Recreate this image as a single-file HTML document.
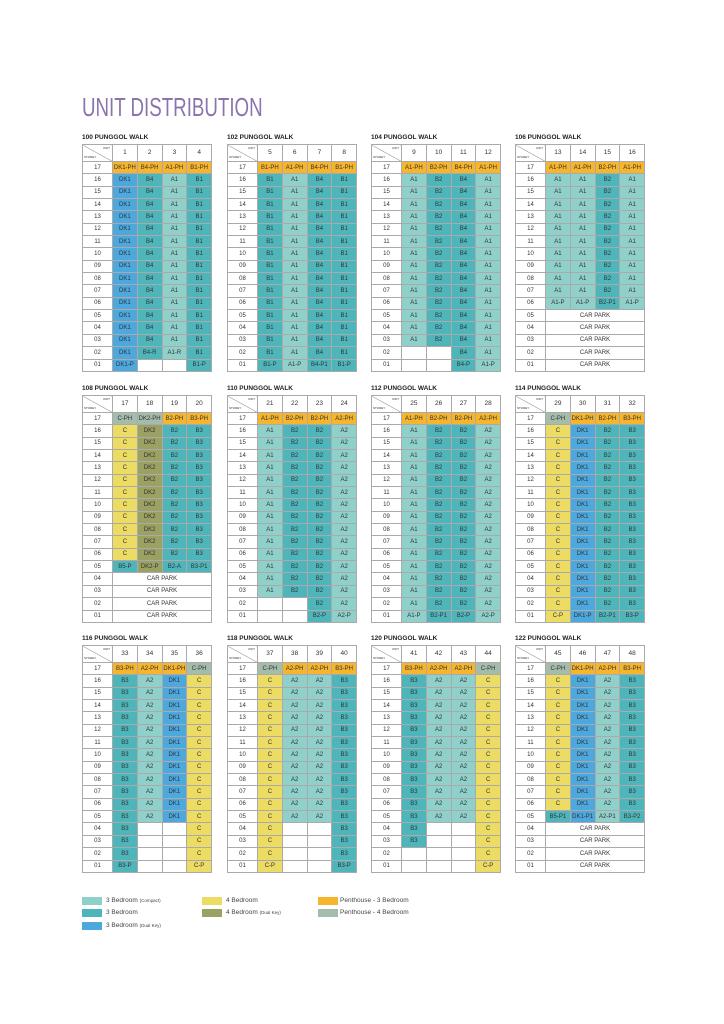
<!DOCTYPE html>
<html><head><meta charset="utf-8"><style>
*{margin:0;padding:0;box-sizing:border-box}
body{width:724px;height:1024px;background:#fff;position:relative;overflow:hidden;font-family:"Liberation Sans",sans-serif;color:#333}
h1{position:absolute;left:82px;top:92px;font-weight:normal;font-size:26px;color:#8b74ae;transform:scaleX(.72);transform-origin:0 0;white-space:nowrap;letter-spacing:0}
.w{position:absolute;width:130px}
.t{font-size:6.5px;font-weight:bold;color:#222;height:10px;margin-top:-10px;white-space:nowrap}
table{border-collapse:collapse;width:130px;table-layout:fixed;border:1px solid #777}
td,th{border:1px solid #aaa;font-size:6px;text-align:center;font-weight:normal;height:12.35px;padding:0;line-height:6px;overflow:hidden;white-space:nowrap}
tr.h td,tr.h th{height:17px;font-size:6.5px}
th.x{background:linear-gradient(to top right,#fff calc(50% - .5px),#888 50%,#fff calc(50% + .5px));position:relative}
th.x span{position:absolute;font-size:3px;line-height:3px}
.a{background:#8fd0cb}.b{background:#4eb6bb}.d{background:#4da8de}.c{background:#ecdc63}.k{background:#9ba063}.p{background:#f6b52c}.g{background:#a4bcab}
.lg{position:absolute;width:20px;height:8px}
.lt{position:absolute;font-size:6.5px;color:#444;white-space:nowrap}
.lt small{font-size:4.5px}
</style></head><body>
<h1>UNIT DISTRIBUTION</h1>

<div class="w" style="left:82px;top:144px"><div class="t">100 PUNGGOL WALK</div><table><col style="width:30px"><col><col><col><col>
<tr class="h"><th class="x"><span style="right:2px;top:2px">UNIT</span><span style="left:1px;bottom:2px">STOREY</span></th><td>1</td><td>2</td><td>3</td><td>4</td></tr>
<tr><th>17</th><td class="p">DK1-PH</td><td class="p">B4-PH</td><td class="p">A1-PH</td><td class="p">B1-PH</td></tr>
<tr><th>16</th><td class="d">DK1</td><td class="b">B4</td><td class="a">A1</td><td class="b">B1</td></tr>
<tr><th>15</th><td class="d">DK1</td><td class="b">B4</td><td class="a">A1</td><td class="b">B1</td></tr>
<tr><th>14</th><td class="d">DK1</td><td class="b">B4</td><td class="a">A1</td><td class="b">B1</td></tr>
<tr><th>13</th><td class="d">DK1</td><td class="b">B4</td><td class="a">A1</td><td class="b">B1</td></tr>
<tr><th>12</th><td class="d">DK1</td><td class="b">B4</td><td class="a">A1</td><td class="b">B1</td></tr>
<tr><th>11</th><td class="d">DK1</td><td class="b">B4</td><td class="a">A1</td><td class="b">B1</td></tr>
<tr><th>10</th><td class="d">DK1</td><td class="b">B4</td><td class="a">A1</td><td class="b">B1</td></tr>
<tr><th>09</th><td class="d">DK1</td><td class="b">B4</td><td class="a">A1</td><td class="b">B1</td></tr>
<tr><th>08</th><td class="d">DK1</td><td class="b">B4</td><td class="a">A1</td><td class="b">B1</td></tr>
<tr><th>07</th><td class="d">DK1</td><td class="b">B4</td><td class="a">A1</td><td class="b">B1</td></tr>
<tr><th>06</th><td class="d">DK1</td><td class="b">B4</td><td class="a">A1</td><td class="b">B1</td></tr>
<tr><th>05</th><td class="d">DK1</td><td class="b">B4</td><td class="a">A1</td><td class="b">B1</td></tr>
<tr><th>04</th><td class="d">DK1</td><td class="b">B4</td><td class="a">A1</td><td class="b">B1</td></tr>
<tr><th>03</th><td class="d">DK1</td><td class="b">B4</td><td class="a">A1</td><td class="b">B1</td></tr>
<tr><th>02</th><td class="d">DK1</td><td class="b">B4-R</td><td class="a">A1-R</td><td class="b">B1</td></tr>
<tr><th>01</th><td class="d">DK1-P</td><td></td><td></td><td class="b">B1-P</td></tr>
</table></div>

<div class="w" style="left:227px;top:144px"><div class="t">102 PUNGGOL WALK</div><table><col style="width:30px"><col><col><col><col>
<tr class="h"><th class="x"><span style="right:2px;top:2px">UNIT</span><span style="left:1px;bottom:2px">STOREY</span></th><td>5</td><td>6</td><td>7</td><td>8</td></tr>
<tr><th>17</th><td class="p">B1-PH</td><td class="p">A1-PH</td><td class="p">B4-PH</td><td class="p">B1-PH</td></tr>
<tr><th>16</th><td class="b">B1</td><td class="a">A1</td><td class="b">B4</td><td class="b">B1</td></tr>
<tr><th>15</th><td class="b">B1</td><td class="a">A1</td><td class="b">B4</td><td class="b">B1</td></tr>
<tr><th>14</th><td class="b">B1</td><td class="a">A1</td><td class="b">B4</td><td class="b">B1</td></tr>
<tr><th>13</th><td class="b">B1</td><td class="a">A1</td><td class="b">B4</td><td class="b">B1</td></tr>
<tr><th>12</th><td class="b">B1</td><td class="a">A1</td><td class="b">B4</td><td class="b">B1</td></tr>
<tr><th>11</th><td class="b">B1</td><td class="a">A1</td><td class="b">B4</td><td class="b">B1</td></tr>
<tr><th>10</th><td class="b">B1</td><td class="a">A1</td><td class="b">B4</td><td class="b">B1</td></tr>
<tr><th>09</th><td class="b">B1</td><td class="a">A1</td><td class="b">B4</td><td class="b">B1</td></tr>
<tr><th>08</th><td class="b">B1</td><td class="a">A1</td><td class="b">B4</td><td class="b">B1</td></tr>
<tr><th>07</th><td class="b">B1</td><td class="a">A1</td><td class="b">B4</td><td class="b">B1</td></tr>
<tr><th>06</th><td class="b">B1</td><td class="a">A1</td><td class="b">B4</td><td class="b">B1</td></tr>
<tr><th>05</th><td class="b">B1</td><td class="a">A1</td><td class="b">B4</td><td class="b">B1</td></tr>
<tr><th>04</th><td class="b">B1</td><td class="a">A1</td><td class="b">B4</td><td class="b">B1</td></tr>
<tr><th>03</th><td class="b">B1</td><td class="a">A1</td><td class="b">B4</td><td class="b">B1</td></tr>
<tr><th>02</th><td class="b">B1</td><td class="a">A1</td><td class="b">B4</td><td class="b">B1</td></tr>
<tr><th>01</th><td class="b">B1-P</td><td class="a">A1-P</td><td class="b">B4-P1</td><td class="b">B1-P</td></tr>
</table></div>

<div class="w" style="left:371px;top:144px"><div class="t">104 PUNGGOL WALK</div><table><col style="width:30px"><col><col><col><col>
<tr class="h"><th class="x"><span style="right:2px;top:2px">UNIT</span><span style="left:1px;bottom:2px">STOREY</span></th><td>9</td><td>10</td><td>11</td><td>12</td></tr>
<tr><th>17</th><td class="p">A1-PH</td><td class="p">B2-PH</td><td class="p">B4-PH</td><td class="p">A1-PH</td></tr>
<tr><th>16</th><td class="a">A1</td><td class="b">B2</td><td class="b">B4</td><td class="a">A1</td></tr>
<tr><th>15</th><td class="a">A1</td><td class="b">B2</td><td class="b">B4</td><td class="a">A1</td></tr>
<tr><th>14</th><td class="a">A1</td><td class="b">B2</td><td class="b">B4</td><td class="a">A1</td></tr>
<tr><th>13</th><td class="a">A1</td><td class="b">B2</td><td class="b">B4</td><td class="a">A1</td></tr>
<tr><th>12</th><td class="a">A1</td><td class="b">B2</td><td class="b">B4</td><td class="a">A1</td></tr>
<tr><th>11</th><td class="a">A1</td><td class="b">B2</td><td class="b">B4</td><td class="a">A1</td></tr>
<tr><th>10</th><td class="a">A1</td><td class="b">B2</td><td class="b">B4</td><td class="a">A1</td></tr>
<tr><th>09</th><td class="a">A1</td><td class="b">B2</td><td class="b">B4</td><td class="a">A1</td></tr>
<tr><th>08</th><td class="a">A1</td><td class="b">B2</td><td class="b">B4</td><td class="a">A1</td></tr>
<tr><th>07</th><td class="a">A1</td><td class="b">B2</td><td class="b">B4</td><td class="a">A1</td></tr>
<tr><th>06</th><td class="a">A1</td><td class="b">B2</td><td class="b">B4</td><td class="a">A1</td></tr>
<tr><th>05</th><td class="a">A1</td><td class="b">B2</td><td class="b">B4</td><td class="a">A1</td></tr>
<tr><th>04</th><td class="a">A1</td><td class="b">B2</td><td class="b">B4</td><td class="a">A1</td></tr>
<tr><th>03</th><td class="a">A1</td><td class="b">B2</td><td class="b">B4</td><td class="a">A1</td></tr>
<tr><th>02</th><td></td><td></td><td class="b">B4</td><td class="a">A1</td></tr>
<tr><th>01</th><td></td><td></td><td class="b">B4-P</td><td class="a">A1-P</td></tr>
</table></div>

<div class="w" style="left:515px;top:144px"><div class="t">106 PUNGGOL WALK</div><table><col style="width:30px"><col><col><col><col>
<tr class="h"><th class="x"><span style="right:2px;top:2px">UNIT</span><span style="left:1px;bottom:2px">STOREY</span></th><td>13</td><td>14</td><td>15</td><td>16</td></tr>
<tr><th>17</th><td class="p">A1-PH</td><td class="p">A1-PH</td><td class="p">B2-PH</td><td class="p">A1-PH</td></tr>
<tr><th>16</th><td class="a">A1</td><td class="a">A1</td><td class="b">B2</td><td class="a">A1</td></tr>
<tr><th>15</th><td class="a">A1</td><td class="a">A1</td><td class="b">B2</td><td class="a">A1</td></tr>
<tr><th>14</th><td class="a">A1</td><td class="a">A1</td><td class="b">B2</td><td class="a">A1</td></tr>
<tr><th>13</th><td class="a">A1</td><td class="a">A1</td><td class="b">B2</td><td class="a">A1</td></tr>
<tr><th>12</th><td class="a">A1</td><td class="a">A1</td><td class="b">B2</td><td class="a">A1</td></tr>
<tr><th>11</th><td class="a">A1</td><td class="a">A1</td><td class="b">B2</td><td class="a">A1</td></tr>
<tr><th>10</th><td class="a">A1</td><td class="a">A1</td><td class="b">B2</td><td class="a">A1</td></tr>
<tr><th>09</th><td class="a">A1</td><td class="a">A1</td><td class="b">B2</td><td class="a">A1</td></tr>
<tr><th>08</th><td class="a">A1</td><td class="a">A1</td><td class="b">B2</td><td class="a">A1</td></tr>
<tr><th>07</th><td class="a">A1</td><td class="a">A1</td><td class="b">B2</td><td class="a">A1</td></tr>
<tr><th>06</th><td class="a">A1-P</td><td class="a">A1-P</td><td class="b">B2-P1</td><td class="a">A1-P</td></tr>
<tr><th>05</th><td colspan="4">CAR PARK</td></tr>
<tr><th>04</th><td colspan="4">CAR PARK</td></tr>
<tr><th>03</th><td colspan="4">CAR PARK</td></tr>
<tr><th>02</th><td colspan="4">CAR PARK</td></tr>
<tr><th>01</th><td colspan="4">CAR PARK</td></tr>
</table></div>

<div class="w" style="left:82px;top:395px"><div class="t">108 PUNGGOL WALK</div><table><col style="width:30px"><col><col><col><col>
<tr class="h"><th class="x"><span style="right:2px;top:2px">UNIT</span><span style="left:1px;bottom:2px">STOREY</span></th><td>17</td><td>18</td><td>19</td><td>20</td></tr>
<tr><th>17</th><td class="g">C-PH</td><td class="g">DK2-PH</td><td class="p">B2-PH</td><td class="p">B3-PH</td></tr>
<tr><th>16</th><td class="c">C</td><td class="k">DK2</td><td class="b">B2</td><td class="b">B3</td></tr>
<tr><th>15</th><td class="c">C</td><td class="k">DK2</td><td class="b">B2</td><td class="b">B3</td></tr>
<tr><th>14</th><td class="c">C</td><td class="k">DK2</td><td class="b">B2</td><td class="b">B3</td></tr>
<tr><th>13</th><td class="c">C</td><td class="k">DK2</td><td class="b">B2</td><td class="b">B3</td></tr>
<tr><th>12</th><td class="c">C</td><td class="k">DK2</td><td class="b">B2</td><td class="b">B3</td></tr>
<tr><th>11</th><td class="c">C</td><td class="k">DK2</td><td class="b">B2</td><td class="b">B3</td></tr>
<tr><th>10</th><td class="c">C</td><td class="k">DK2</td><td class="b">B2</td><td class="b">B3</td></tr>
<tr><th>09</th><td class="c">C</td><td class="k">DK2</td><td class="b">B2</td><td class="b">B3</td></tr>
<tr><th>08</th><td class="c">C</td><td class="k">DK2</td><td class="b">B2</td><td class="b">B3</td></tr>
<tr><th>07</th><td class="c">C</td><td class="k">DK2</td><td class="b">B2</td><td class="b">B3</td></tr>
<tr><th>06</th><td class="c">C</td><td class="k">DK2</td><td class="b">B2</td><td class="b">B3</td></tr>
<tr><th>05</th><td class="b">B5-P</td><td class="k">DK2-P</td><td class="b">B2-A</td><td class="b">B3-P1</td></tr>
<tr><th>04</th><td colspan="4">CAR PARK</td></tr>
<tr><th>03</th><td colspan="4">CAR PARK</td></tr>
<tr><th>02</th><td colspan="4">CAR PARK</td></tr>
<tr><th>01</th><td colspan="4">CAR PARK</td></tr>
</table></div>

<div class="w" style="left:227px;top:395px"><div class="t">110 PUNGGOL WALK</div><table><col style="width:30px"><col><col><col><col>
<tr class="h"><th class="x"><span style="right:2px;top:2px">UNIT</span><span style="left:1px;bottom:2px">STOREY</span></th><td>21</td><td>22</td><td>23</td><td>24</td></tr>
<tr><th>17</th><td class="p">A1-PH</td><td class="p">B2-PH</td><td class="p">B2-PH</td><td class="p">A2-PH</td></tr>
<tr><th>16</th><td class="a">A1</td><td class="b">B2</td><td class="b">B2</td><td class="a">A2</td></tr>
<tr><th>15</th><td class="a">A1</td><td class="b">B2</td><td class="b">B2</td><td class="a">A2</td></tr>
<tr><th>14</th><td class="a">A1</td><td class="b">B2</td><td class="b">B2</td><td class="a">A2</td></tr>
<tr><th>13</th><td class="a">A1</td><td class="b">B2</td><td class="b">B2</td><td class="a">A2</td></tr>
<tr><th>12</th><td class="a">A1</td><td class="b">B2</td><td class="b">B2</td><td class="a">A2</td></tr>
<tr><th>11</th><td class="a">A1</td><td class="b">B2</td><td class="b">B2</td><td class="a">A2</td></tr>
<tr><th>10</th><td class="a">A1</td><td class="b">B2</td><td class="b">B2</td><td class="a">A2</td></tr>
<tr><th>09</th><td class="a">A1</td><td class="b">B2</td><td class="b">B2</td><td class="a">A2</td></tr>
<tr><th>08</th><td class="a">A1</td><td class="b">B2</td><td class="b">B2</td><td class="a">A2</td></tr>
<tr><th>07</th><td class="a">A1</td><td class="b">B2</td><td class="b">B2</td><td class="a">A2</td></tr>
<tr><th>06</th><td class="a">A1</td><td class="b">B2</td><td class="b">B2</td><td class="a">A2</td></tr>
<tr><th>05</th><td class="a">A1</td><td class="b">B2</td><td class="b">B2</td><td class="a">A2</td></tr>
<tr><th>04</th><td class="a">A1</td><td class="b">B2</td><td class="b">B2</td><td class="a">A2</td></tr>
<tr><th>03</th><td class="a">A1</td><td class="b">B2</td><td class="b">B2</td><td class="a">A2</td></tr>
<tr><th>02</th><td></td><td></td><td class="b">B2</td><td class="a">A2</td></tr>
<tr><th>01</th><td></td><td></td><td class="b">B2-P</td><td class="a">A2-P</td></tr>
</table></div>

<div class="w" style="left:371px;top:395px"><div class="t">112 PUNGGOL WALK</div><table><col style="width:30px"><col><col><col><col>
<tr class="h"><th class="x"><span style="right:2px;top:2px">UNIT</span><span style="left:1px;bottom:2px">STOREY</span></th><td>25</td><td>26</td><td>27</td><td>28</td></tr>
<tr><th>17</th><td class="p">A1-PH</td><td class="p">B2-PH</td><td class="p">B2-PH</td><td class="p">A2-PH</td></tr>
<tr><th>16</th><td class="a">A1</td><td class="b">B2</td><td class="b">B2</td><td class="a">A2</td></tr>
<tr><th>15</th><td class="a">A1</td><td class="b">B2</td><td class="b">B2</td><td class="a">A2</td></tr>
<tr><th>14</th><td class="a">A1</td><td class="b">B2</td><td class="b">B2</td><td class="a">A2</td></tr>
<tr><th>13</th><td class="a">A1</td><td class="b">B2</td><td class="b">B2</td><td class="a">A2</td></tr>
<tr><th>12</th><td class="a">A1</td><td class="b">B2</td><td class="b">B2</td><td class="a">A2</td></tr>
<tr><th>11</th><td class="a">A1</td><td class="b">B2</td><td class="b">B2</td><td class="a">A2</td></tr>
<tr><th>10</th><td class="a">A1</td><td class="b">B2</td><td class="b">B2</td><td class="a">A2</td></tr>
<tr><th>09</th><td class="a">A1</td><td class="b">B2</td><td class="b">B2</td><td class="a">A2</td></tr>
<tr><th>08</th><td class="a">A1</td><td class="b">B2</td><td class="b">B2</td><td class="a">A2</td></tr>
<tr><th>07</th><td class="a">A1</td><td class="b">B2</td><td class="b">B2</td><td class="a">A2</td></tr>
<tr><th>06</th><td class="a">A1</td><td class="b">B2</td><td class="b">B2</td><td class="a">A2</td></tr>
<tr><th>05</th><td class="a">A1</td><td class="b">B2</td><td class="b">B2</td><td class="a">A2</td></tr>
<tr><th>04</th><td class="a">A1</td><td class="b">B2</td><td class="b">B2</td><td class="a">A2</td></tr>
<tr><th>03</th><td class="a">A1</td><td class="b">B2</td><td class="b">B2</td><td class="a">A2</td></tr>
<tr><th>02</th><td class="a">A1</td><td class="b">B2</td><td class="b">B2</td><td class="a">A2</td></tr>
<tr><th>01</th><td class="a">A1-P</td><td class="b">B2-P1</td><td class="b">B2-P</td><td class="a">A2-P</td></tr>
</table></div>

<div class="w" style="left:515px;top:395px"><div class="t">114 PUNGGOL WALK</div><table><col style="width:30px"><col><col><col><col>
<tr class="h"><th class="x"><span style="right:2px;top:2px">UNIT</span><span style="left:1px;bottom:2px">STOREY</span></th><td>29</td><td>30</td><td>31</td><td>32</td></tr>
<tr><th>17</th><td class="g">C-PH</td><td class="p">DK1-PH</td><td class="p">B2-PH</td><td class="p">B3-PH</td></tr>
<tr><th>16</th><td class="c">C</td><td class="d">DK1</td><td class="b">B2</td><td class="b">B3</td></tr>
<tr><th>15</th><td class="c">C</td><td class="d">DK1</td><td class="b">B2</td><td class="b">B3</td></tr>
<tr><th>14</th><td class="c">C</td><td class="d">DK1</td><td class="b">B2</td><td class="b">B3</td></tr>
<tr><th>13</th><td class="c">C</td><td class="d">DK1</td><td class="b">B2</td><td class="b">B3</td></tr>
<tr><th>12</th><td class="c">C</td><td class="d">DK1</td><td class="b">B2</td><td class="b">B3</td></tr>
<tr><th>11</th><td class="c">C</td><td class="d">DK1</td><td class="b">B2</td><td class="b">B3</td></tr>
<tr><th>10</th><td class="c">C</td><td class="d">DK1</td><td class="b">B2</td><td class="b">B3</td></tr>
<tr><th>09</th><td class="c">C</td><td class="d">DK1</td><td class="b">B2</td><td class="b">B3</td></tr>
<tr><th>08</th><td class="c">C</td><td class="d">DK1</td><td class="b">B2</td><td class="b">B3</td></tr>
<tr><th>07</th><td class="c">C</td><td class="d">DK1</td><td class="b">B2</td><td class="b">B3</td></tr>
<tr><th>06</th><td class="c">C</td><td class="d">DK1</td><td class="b">B2</td><td class="b">B3</td></tr>
<tr><th>05</th><td class="c">C</td><td class="d">DK1</td><td class="b">B2</td><td class="b">B3</td></tr>
<tr><th>04</th><td class="c">C</td><td class="d">DK1</td><td class="b">B2</td><td class="b">B3</td></tr>
<tr><th>03</th><td class="c">C</td><td class="d">DK1</td><td class="b">B2</td><td class="b">B3</td></tr>
<tr><th>02</th><td class="c">C</td><td class="d">DK1</td><td class="b">B2</td><td class="b">B3</td></tr>
<tr><th>01</th><td class="c">C-P</td><td class="d">DK1-P</td><td class="b">B2-P1</td><td class="b">B3-P</td></tr>
</table></div>

<div class="w" style="left:82px;top:645px"><div class="t">116 PUNGGOL WALK</div><table><col style="width:30px"><col><col><col><col>
<tr class="h"><th class="x"><span style="right:2px;top:2px">UNIT</span><span style="left:1px;bottom:2px">STOREY</span></th><td>33</td><td>34</td><td>35</td><td>36</td></tr>
<tr><th>17</th><td class="p">B3-PH</td><td class="p">A2-PH</td><td class="p">DK1-PH</td><td class="g">C-PH</td></tr>
<tr><th>16</th><td class="b">B3</td><td class="a">A2</td><td class="d">DK1</td><td class="c">C</td></tr>
<tr><th>15</th><td class="b">B3</td><td class="a">A2</td><td class="d">DK1</td><td class="c">C</td></tr>
<tr><th>14</th><td class="b">B3</td><td class="a">A2</td><td class="d">DK1</td><td class="c">C</td></tr>
<tr><th>13</th><td class="b">B3</td><td class="a">A2</td><td class="d">DK1</td><td class="c">C</td></tr>
<tr><th>12</th><td class="b">B3</td><td class="a">A2</td><td class="d">DK1</td><td class="c">C</td></tr>
<tr><th>11</th><td class="b">B3</td><td class="a">A2</td><td class="d">DK1</td><td class="c">C</td></tr>
<tr><th>10</th><td class="b">B3</td><td class="a">A2</td><td class="d">DK1</td><td class="c">C</td></tr>
<tr><th>09</th><td class="b">B3</td><td class="a">A2</td><td class="d">DK1</td><td class="c">C</td></tr>
<tr><th>08</th><td class="b">B3</td><td class="a">A2</td><td class="d">DK1</td><td class="c">C</td></tr>
<tr><th>07</th><td class="b">B3</td><td class="a">A2</td><td class="d">DK1</td><td class="c">C</td></tr>
<tr><th>06</th><td class="b">B3</td><td class="a">A2</td><td class="d">DK1</td><td class="c">C</td></tr>
<tr><th>05</th><td class="b">B3</td><td class="a">A2</td><td class="d">DK1</td><td class="c">C</td></tr>
<tr><th>04</th><td class="b">B3</td><td></td><td></td><td class="c">C</td></tr>
<tr><th>03</th><td class="b">B3</td><td></td><td></td><td class="c">C</td></tr>
<tr><th>02</th><td class="b">B3</td><td></td><td></td><td class="c">C</td></tr>
<tr><th>01</th><td class="b">B3-P</td><td></td><td></td><td class="c">C-P</td></tr>
</table></div>

<div class="w" style="left:227px;top:645px"><div class="t">118 PUNGGOL WALK</div><table><col style="width:30px"><col><col><col><col>
<tr class="h"><th class="x"><span style="right:2px;top:2px">UNIT</span><span style="left:1px;bottom:2px">STOREY</span></th><td>37</td><td>38</td><td>39</td><td>40</td></tr>
<tr><th>17</th><td class="g">C-PH</td><td class="p">A2-PH</td><td class="p">A2-PH</td><td class="p">B3-PH</td></tr>
<tr><th>16</th><td class="c">C</td><td class="a">A2</td><td class="a">A2</td><td class="b">B3</td></tr>
<tr><th>15</th><td class="c">C</td><td class="a">A2</td><td class="a">A2</td><td class="b">B3</td></tr>
<tr><th>14</th><td class="c">C</td><td class="a">A2</td><td class="a">A2</td><td class="b">B3</td></tr>
<tr><th>13</th><td class="c">C</td><td class="a">A2</td><td class="a">A2</td><td class="b">B3</td></tr>
<tr><th>12</th><td class="c">C</td><td class="a">A2</td><td class="a">A2</td><td class="b">B3</td></tr>
<tr><th>11</th><td class="c">C</td><td class="a">A2</td><td class="a">A2</td><td class="b">B3</td></tr>
<tr><th>10</th><td class="c">C</td><td class="a">A2</td><td class="a">A2</td><td class="b">B3</td></tr>
<tr><th>09</th><td class="c">C</td><td class="a">A2</td><td class="a">A2</td><td class="b">B3</td></tr>
<tr><th>08</th><td class="c">C</td><td class="a">A2</td><td class="a">A2</td><td class="b">B3</td></tr>
<tr><th>07</th><td class="c">C</td><td class="a">A2</td><td class="a">A2</td><td class="b">B3</td></tr>
<tr><th>06</th><td class="c">C</td><td class="a">A2</td><td class="a">A2</td><td class="b">B3</td></tr>
<tr><th>05</th><td class="c">C</td><td class="a">A2</td><td class="a">A2</td><td class="b">B3</td></tr>
<tr><th>04</th><td class="c">C</td><td></td><td></td><td class="b">B3</td></tr>
<tr><th>03</th><td class="c">C</td><td></td><td></td><td class="b">B3</td></tr>
<tr><th>02</th><td class="c">C</td><td></td><td></td><td class="b">B3</td></tr>
<tr><th>01</th><td class="c">C-P</td><td></td><td></td><td class="b">B3-P</td></tr>
</table></div>

<div class="w" style="left:371px;top:645px"><div class="t">120 PUNGGOL WALK</div><table><col style="width:30px"><col><col><col><col>
<tr class="h"><th class="x"><span style="right:2px;top:2px">UNIT</span><span style="left:1px;bottom:2px">STOREY</span></th><td>41</td><td>42</td><td>43</td><td>44</td></tr>
<tr><th>17</th><td class="p">B3-PH</td><td class="p">A2-PH</td><td class="p">A2-PH</td><td class="g">C-PH</td></tr>
<tr><th>16</th><td class="b">B3</td><td class="a">A2</td><td class="a">A2</td><td class="c">C</td></tr>
<tr><th>15</th><td class="b">B3</td><td class="a">A2</td><td class="a">A2</td><td class="c">C</td></tr>
<tr><th>14</th><td class="b">B3</td><td class="a">A2</td><td class="a">A2</td><td class="c">C</td></tr>
<tr><th>13</th><td class="b">B3</td><td class="a">A2</td><td class="a">A2</td><td class="c">C</td></tr>
<tr><th>12</th><td class="b">B3</td><td class="a">A2</td><td class="a">A2</td><td class="c">C</td></tr>
<tr><th>11</th><td class="b">B3</td><td class="a">A2</td><td class="a">A2</td><td class="c">C</td></tr>
<tr><th>10</th><td class="b">B3</td><td class="a">A2</td><td class="a">A2</td><td class="c">C</td></tr>
<tr><th>09</th><td class="b">B3</td><td class="a">A2</td><td class="a">A2</td><td class="c">C</td></tr>
<tr><th>08</th><td class="b">B3</td><td class="a">A2</td><td class="a">A2</td><td class="c">C</td></tr>
<tr><th>07</th><td class="b">B3</td><td class="a">A2</td><td class="a">A2</td><td class="c">C</td></tr>
<tr><th>06</th><td class="b">B3</td><td class="a">A2</td><td class="a">A2</td><td class="c">C</td></tr>
<tr><th>05</th><td class="b">B3</td><td class="a">A2</td><td class="a">A2</td><td class="c">C</td></tr>
<tr><th>04</th><td class="b">B3</td><td></td><td></td><td class="c">C</td></tr>
<tr><th>03</th><td class="b">B3</td><td></td><td></td><td class="c">C</td></tr>
<tr><th>02</th><td></td><td></td><td></td><td class="c">C</td></tr>
<tr><th>01</th><td></td><td></td><td></td><td class="c">C-P</td></tr>
</table></div>

<div class="w" style="left:515px;top:645px"><div class="t">122 PUNGGOL WALK</div><table><col style="width:30px"><col><col><col><col>
<tr class="h"><th class="x"><span style="right:2px;top:2px">UNIT</span><span style="left:1px;bottom:2px">STOREY</span></th><td>45</td><td>46</td><td>47</td><td>48</td></tr>
<tr><th>17</th><td class="g">C-PH</td><td class="p">DK1-PH</td><td class="p">A2-PH</td><td class="p">B3-PH</td></tr>
<tr><th>16</th><td class="c">C</td><td class="d">DK1</td><td class="a">A2</td><td class="b">B3</td></tr>
<tr><th>15</th><td class="c">C</td><td class="d">DK1</td><td class="a">A2</td><td class="b">B3</td></tr>
<tr><th>14</th><td class="c">C</td><td class="d">DK1</td><td class="a">A2</td><td class="b">B3</td></tr>
<tr><th>13</th><td class="c">C</td><td class="d">DK1</td><td class="a">A2</td><td class="b">B3</td></tr>
<tr><th>12</th><td class="c">C</td><td class="d">DK1</td><td class="a">A2</td><td class="b">B3</td></tr>
<tr><th>11</th><td class="c">C</td><td class="d">DK1</td><td class="a">A2</td><td class="b">B3</td></tr>
<tr><th>10</th><td class="c">C</td><td class="d">DK1</td><td class="a">A2</td><td class="b">B3</td></tr>
<tr><th>09</th><td class="c">C</td><td class="d">DK1</td><td class="a">A2</td><td class="b">B3</td></tr>
<tr><th>08</th><td class="c">C</td><td class="d">DK1</td><td class="a">A2</td><td class="b">B3</td></tr>
<tr><th>07</th><td class="c">C</td><td class="d">DK1</td><td class="a">A2</td><td class="b">B3</td></tr>
<tr><th>06</th><td class="c">C</td><td class="d">DK1</td><td class="a">A2</td><td class="b">B3</td></tr>
<tr><th>05</th><td class="b">B5-P1</td><td class="d">DK1-P1</td><td class="a">A2-P1</td><td class="b">B3-P2</td></tr>
<tr><th>04</th><td colspan="4">CAR PARK</td></tr>
<tr><th>03</th><td colspan="4">CAR PARK</td></tr>
<tr><th>02</th><td colspan="4">CAR PARK</td></tr>
<tr><th>01</th><td colspan="4">CAR PARK</td></tr>
</table></div>

<div class="lg a" style="left:82px;top:897px"></div><div class="lt" style="left:106px;top:897px">3 Bedroom <small>(Compact)</small></div>
<div class="lg b" style="left:82px;top:909px"></div><div class="lt" style="left:106px;top:909px">3 Bedroom</div>
<div class="lg d" style="left:82px;top:922px"></div><div class="lt" style="left:106px;top:922px">3 Bedroom <small>(Dual Key)</small></div>
<div class="lg c" style="left:202px;top:897px"></div><div class="lt" style="left:226px;top:897px">4 Bedroom</div>
<div class="lg k" style="left:202px;top:909px"></div><div class="lt" style="left:226px;top:909px">4 Bedroom <small>(Dual Key)</small></div>
<div class="lg p" style="left:318px;top:897px"></div><div class="lt" style="left:340px;top:897px">Penthouse - 3 Bedroom</div>
<div class="lg g" style="left:318px;top:909px"></div><div class="lt" style="left:340px;top:909px">Penthouse - 4 Bedroom</div>
</body></html>
